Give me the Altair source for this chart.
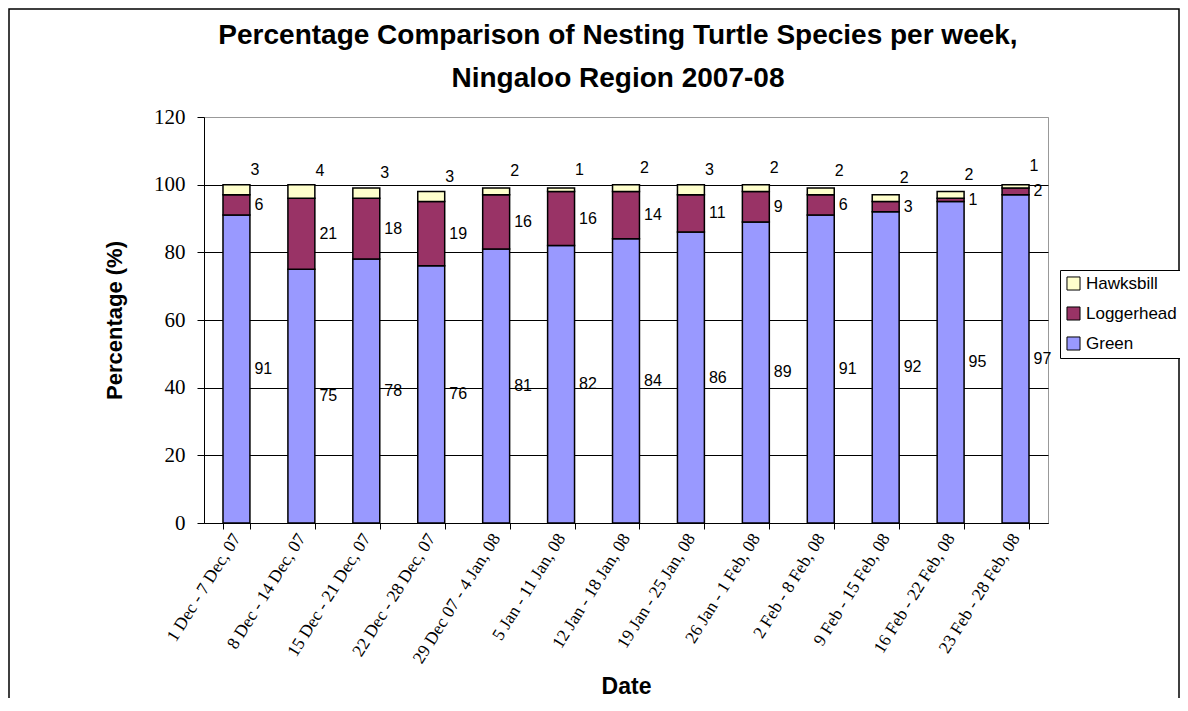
import altair as alt
import pandas as pd

weeks = [
    "1 Dec - 7 Dec, 07", "8 Dec - 14 Dec, 07", "15 Dec - 21 Dec, 07",
    "22 Dec - 28 Dec, 07", "29 Dec 07 - 4 Jan, 08", "5 Jan - 11 Jan, 08",
    "12 Jan - 18 Jan, 08", "19 Jan - 25 Jan, 08", "26 Jan - 1 Feb, 08",
    "2 Feb - 8 Feb, 08", "9 Feb - 15 Feb, 08", "16 Feb - 22 Feb, 08",
    "23 Feb - 28 Feb, 08",
]
green = [91, 75, 78, 76, 81, 82, 84, 86, 89, 91, 92, 95, 97]
loggerhead = [6, 21, 18, 19, 16, 16, 14, 11, 9, 6, 3, 1, 2]
hawksbill = [3, 4, 3, 3, 2, 1, 2, 3, 2, 2, 2, 2, 1]

legend_species = ["Hawksbill", "Loggerhead", "Green"]
species_colors = ["#FFFFCC", "#993366", "#9999FF"]
stack_rank = {"Green": 0, "Loggerhead": 1, "Hawksbill": 2}

rows = []
for i, w in enumerate(weeks):
    for sp, vals in (("Green", green), ("Loggerhead", loggerhead), ("Hawksbill", hawksbill)):
        rows.append({"week": w, "species": sp, "value": vals[i], "rank": stack_rank[sp]})
df = pd.DataFrame(rows)

SANS = "Liberation Sans"
SERIF = "Liberation Serif"

x_scale = alt.Scale(paddingInner=0.585, paddingOuter=0.2925)
y_scale = alt.Scale(domain=[0, 120], nice=False)

x_axis = alt.Axis(
    labelAngle=-58, labelFont=SERIF, labelFontSize=17.5, labelColor="black",
    labelPadding=6, tickBand="extent", tickColor="black",
    tickSize=6, domainColor="black", grid=False,
    titleFont=SANS, titleFontSize=23, titleFontWeight="bold", titleColor="black",
    titleY=170, titleBaseline="alphabetic",
)
y_axis = alt.Axis(
    values=[0, 20, 40, 60, 80, 100, 120], labelFont=SERIF, labelFontSize=21,
    labelColor="black", labelPadding=12, tickColor="black", tickSize=7,
    domainColor="black", grid=True,
    gridColor={"condition": {"test": "datum.value == 120", "value": "#999999"}, "value": "black"},
    titleFont=SANS, titleFontSize=22, titleFontWeight="bold", titleColor="black",
    titlePadding=27,
)

bars = alt.Chart(df).mark_bar(stroke="black", strokeWidth=1.5).encode(
    x=alt.X("week:N", sort=weeks, scale=x_scale, axis=x_axis, title="Date"),
    y=alt.Y("value:Q", stack="zero", scale=y_scale, axis=y_axis, title="Percentage (%)"),
    color=alt.Color(
        "species:N",
        scale=alt.Scale(domain=legend_species, range=species_colors),
        legend=alt.Legend(
            orient="none", legendX=856, legendY=153, title=None,
            strokeColor="black", fillColor="white", padding=5,
            symbolType="square", symbolSize=170, symbolStrokeColor="black",
            symbolStrokeWidth=1, labelFont=SANS, labelFontSize=17,
            labelColor="black", rowPadding=11, labelOffset=4,
        ),
    ),
    order=alt.Order("rank:Q", sort="ascending"),
)

stacked = alt.Chart(df).transform_stack(
    stack="value", groupby=["week"], as_=["y0", "y1"],
    sort=[alt.SortField("rank", order="ascending")],
).transform_calculate(mid="(datum.y0 + datum.y1) / 2")

lab_enc = dict(
    x=alt.X("week:N", sort=weeks, scale=x_scale, title="Date"),
    y=alt.Y("mid:Q", scale=y_scale, title="Percentage (%)"),
    text=alt.Text("value:Q", format="d"),
)

labels_low = stacked.transform_filter("datum.species != 'Hawksbill'").mark_text(
    align="left", baseline="middle", dx=18, font=SANS, fontSize=16, color="black"
).encode(**lab_enc)

labels_top = stacked.transform_filter("datum.species == 'Hawksbill'").mark_text(
    align="left", baseline="middle", dx=14, dy=-20, font=SANS, fontSize=16, color="black"
).encode(**lab_enc)

frame = alt.Chart(pd.DataFrame({"a": [0]})).mark_rect(
    filled=False, fill="white", fillOpacity=0, stroke="black", strokeWidth=1.5
).encode(
    x=alt.value(-195), x2=alt.value(975), y=alt.value(-108), y2=alt.value(700)
)

chart = alt.layer(bars, labels_low, labels_top, frame).properties(
    width=844,
    height=406,
    autosize=alt.AutoSizeParams(type="none"),
    padding={"left": 196, "top": 109, "right": 132, "bottom": 175},
    background="white",
    title=alt.TitleParams(
        text=["Percentage Comparison of Nesting Turtle Species per week,",
              "Ningaloo Region 2007-08"],
        font=SANS, fontSize=28, fontWeight="bold", color="black",
        anchor="middle", frame="group", offset=-85, dx=-8, lineHeight=43,
    ),
).configure_view(stroke="#999999", strokeWidth=1)

chart.save("out.html", embed_options={"renderer": "svg", "actions": False})
